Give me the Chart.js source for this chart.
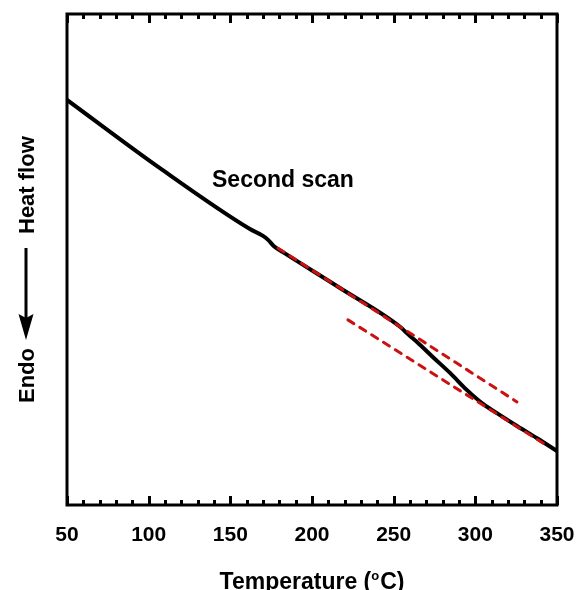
<!DOCTYPE html>
<html>
<head>
<meta charset="utf-8">
<script src="https://cdn.jsdelivr.net/npm/chart.js@4"></script>
<style>
  html, body { margin: 0; padding: 0; background: #fff; }
  #wrap { width: 579px; height: 590px; }
</style>
</head>
<body>
<div id="wrap"><canvas id="myChart"></canvas></div>
<script>
// DSC trace, second scan (heat flow in arbitrary units, 0-100)
const temps    = [50, 106.9, 162.0, 170.0, 173.1, 176.7, 182.2, 217.1, 253.9, 258.7, 264.3, 274.1, 284.5, 294.9, 304.7, 315.1, 325.5, 337.8, 350];
const heatFlow = [82.5, 68.6, 56.2, 54.8, 54.0, 52.7, 51.5, 44.2, 36.3, 34.8, 33.2, 30.1, 26.9, 23.4, 20.6, 18.3, 16.1, 13.6, 11.0];

// tangent baselines (red dashed)
const upperBaseT = [179.2, 325.5];
const upperBaseY = [52.3, 21.0];
const lowerBaseT = [222.0, 344.4];
const lowerBaseY = [37.7, 12.0];

const xTicks = [50, 100, 150, 200, 250, 300, 350];
const xMinorStep = 10;

const FONT = '"Liberation Sans", Arial, sans-serif';

function pts(xs, ys) {
    return xs.map((x, i) => ({x: x, y: ys[i]}));
}

const decorations = {
    id: 'decorations',
    afterDatasetsDraw(chart) {
        const ctx = chart.ctx;
        const a = chart.chartArea;
        const xs = chart.scales.x;
        ctx.save();
        ctx.strokeStyle = '#000';
        ctx.fillStyle = '#000';

        // frame
        ctx.lineWidth = 3;
        ctx.strokeRect(a.left, a.top, a.right - a.left, a.bottom - a.top);

        // inward ticks top and bottom
        for (let v = xs.min; v <= xs.max; v += xMinorStep) {
            const px = Math.round(xs.getPixelForValue(v)) + 0.5;
            const len = (v % 50 === 0) ? 9 : 5;
            ctx.beginPath();
            ctx.moveTo(px, a.bottom);
            ctx.lineTo(px, a.bottom - len);
            ctx.moveTo(px, a.top);
            ctx.lineTo(px, a.top + len);
            ctx.stroke();
        }

        // tick labels
        ctx.font = 'bold 21px ' + FONT;
        ctx.textAlign = 'center';
        ctx.textBaseline = 'alphabetic';
        xTicks.forEach(v => {
            ctx.fillText(String(v), xs.getPixelForValue(v), 541);
        });

        // in-plot label
        ctx.font = 'bold 23px ' + FONT;
        ctx.textAlign = 'left';
        ctx.fillText('Second scan', 212, 187);

        // x-axis title with superscript o
        const big = 'bold 23px ' + FONT;
        const small = 'bold 13px ' + FONT;
        ctx.font = big;
        const p1 = 'Temperature (';
        const p3 = 'C)';
        const w1 = ctx.measureText(p1).width;
        const w3 = ctx.measureText(p3).width;
        ctx.font = small;
        const w2 = ctx.measureText('o').width + 1;
        const total = w1 + w2 + w3;
        const x0 = (a.left + a.right) / 2 - total / 2;
        const base = 589;
        ctx.font = big;
        ctx.fillText(p1, x0, base);
        ctx.font = small;
        ctx.fillText('o', x0 + w1, base - 9);
        ctx.font = big;
        ctx.fillText(p3, x0 + w1 + w2, base);

        // y-axis title: Endo <-- Heat flow (rotated)
        ctx.translate(34, 0);
        ctx.rotate(-Math.PI / 2);
        ctx.font = 'bold 22px ' + FONT;
        ctx.fillText('Endo', -403, 0);
        ctx.fillText('Heat flow', -234, 0);
        // arrow pointing to Endo (down on page)
        ctx.lineWidth = 3;
        ctx.beginPath();
        ctx.moveTo(-248, -8);
        ctx.lineTo(-320, -8);
        ctx.stroke();
        ctx.beginPath();
        ctx.moveTo(-340, -8);
        ctx.lineTo(-314, -15.5);
        ctx.lineTo(-318, -8);
        ctx.lineTo(-314, -0.5);
        ctx.closePath();
        ctx.fill();
        ctx.restore();
    }
};

new Chart(document.getElementById('myChart'), {
    type: 'line',
    data: {
        datasets: [{
            label: 'Second scan',
            data: pts(temps, heatFlow),
            borderColor: '#000',
            borderWidth: 4,
            cubicInterpolationMode: 'monotone',
            pointRadius: 0,
            order: 2
        }, {
            label: 'upper baseline',
            data: pts(upperBaseT, upperBaseY),
            borderColor: '#cc1111',
            borderWidth: 3,
            borderDash: [7, 7],
            borderCapStyle: 'round',
            pointRadius: 0,
            order: 1
        }, {
            label: 'lower baseline',
            data: pts(lowerBaseT, lowerBaseY),
            borderColor: '#cc1111',
            borderWidth: 3,
            borderDash: [7, 7],
            borderCapStyle: 'round',
            pointRadius: 0,
            order: 1
        }]
    },
    options: {
        responsive: true,
        maintainAspectRatio: false,
        animation: false,
        layout: {
            padding: {left: 67, right: 22, top: 14, bottom: 0}
        },
        plugins: {
            legend: {display: false},
            tooltip: {enabled: false}
        },
        scales: {
            x: {
                type: 'linear',
                min: 50,
                max: 350,
                afterFit: function(scale) { scale.height = 85; },
                grid: {display: false, drawTicks: false},
                border: {display: false},
                ticks: {display: false}
            },
            y: {
                type: 'linear',
                min: 0,
                max: 100,
                display: false
            }
        }
    },
    plugins: [decorations]
});
</script>
</body>
</html>
